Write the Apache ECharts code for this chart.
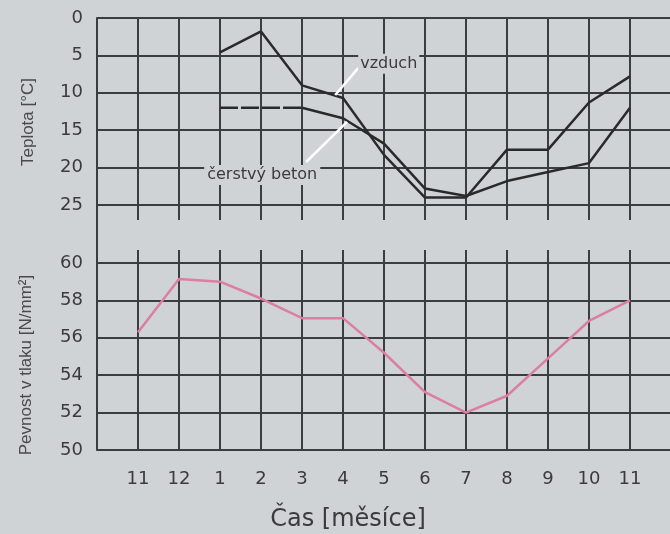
<!DOCTYPE html>
<html>
<head>
<meta charset="utf-8">
<script src="https://cdn.jsdelivr.net/npm/echarts@6/dist/echarts.min.js"></script>
<style>
  html, body { margin: 0; padding: 0; background: #cfd3d6; }
  #chart { width: 670px; height: 534px; }
</style>
</head>
<body>
<div id="chart"></div>
<script>
// Months from November to the following November
const months = ['11', '12', '1', '2', '3', '4', '5', '6', '7', '8', '9', '10', '11'];

// Air temperature [°C] per month (null = not measured)
const airTemp = [null, null, 4.6, 1.8, 9.0, 10.7, 18.3, 24.0, 24.0, 17.6, 17.6, 11.3, 7.8];
// Fresh concrete temperature [°C] per month
const concreteTemp = [null, null, 12.0, 12.0, 12.0, 13.4, 16.8, 22.8, 23.8, 21.8, 20.6, 19.4, 12.0];
// Compressive strength [N/mm²] per month
const strength = [56.3, 59.15, 59.0, 58.1, 57.05, 57.05, 55.2, 53.1, 52.0, 52.9, 54.9, 56.9, 58.0];

const tempTicks = [0, 5, 10, 15, 20, 25];
const strengthTicks = [50, 52, 54, 56, 58, 60];

const BG = '#cfd3d6';
const GRID = '#3a3e42';
const INK = '#3b3b3b';
const FONT = 'DejaVu Sans';

function pairs(arr, from, to) {
  const out = [];
  arr.forEach((v, i) => {
    if (v == null) return;
    if (from != null && i < from) return;
    if (to != null && i > to) return;
    out.push([i, v]);
  });
  return out;
}

const chart = echarts.init(document.getElementById('chart'), null, { renderer: 'canvas' });

const xBase = {
  type: 'value', min: -1, max: 13, interval: 1,
  axisLine: { show: false }, axisTick: { show: false },
  axisLabel: { show: false },
  splitLine: { show: true, lineStyle: { color: GRID, width: 2 } }
};

// The plot runs one month-step past the last month; that final split line
// (x = 13) is pushed just beyond the right edge of the canvas.
const GL = 97, GW = 574;
const gridBox = (top, height) => ({
  left: GL, width: GW, top: top, height: height,
  outerBoundsMode: 'none', containLabel: false
});

const option = {
  backgroundColor: BG,
  animation: false,
  grid: [
    gridBox(18, 187),   // temperature
    gridBox(263, 187),  // strength
    gridBox(205, 15),   // tick stubs below temperature
    gridBox(250, 13),   // tick stubs above strength
    gridBox(18, 432)    // shared left axis line
  ],
  xAxis: [
    Object.assign({}, xBase, { gridIndex: 0 }),
    Object.assign({}, xBase, {
      gridIndex: 1,
      axisLabel: {
        show: true, margin: 20, color: INK, fontFamily: FONT, fontSize: 18,
        formatter: v => (v >= 0 && v < months.length) ? months[v] : ''
      }
    }),
    Object.assign({}, xBase, { gridIndex: 2 }),
    Object.assign({}, xBase, { gridIndex: 3 }),
    Object.assign({}, xBase, { gridIndex: 4, splitLine: { show: false } })
  ],
  yAxis: [
    {
      gridIndex: 0, type: 'value', inverse: true,
      min: tempTicks[0], max: tempTicks[tempTicks.length - 1], interval: 5,
      axisLine: { show: false }, axisTick: { show: false },
      axisLabel: { margin: 14, color: INK, fontFamily: FONT, fontSize: 18 },
      splitLine: { show: true, lineStyle: { color: GRID, width: 2 } }
    },
    {
      gridIndex: 1, type: 'value',
      min: strengthTicks[0], max: strengthTicks[strengthTicks.length - 1], interval: 2,
      axisLine: { show: false }, axisTick: { show: false },
      axisLabel: { margin: 14, color: INK, fontFamily: FONT, fontSize: 18 },
      splitLine: { show: true, lineStyle: { color: GRID, width: 2 } }
    },
    { gridIndex: 2, type: 'value', show: false },
    { gridIndex: 3, type: 'value', show: false },
    {
      gridIndex: 4, type: 'value', min: 0, max: 1,
      axisLine: { show: true, onZero: false, lineStyle: { color: GRID, width: 2 } },
      axisTick: { show: false }, axisLabel: { show: false }, splitLine: { show: false }
    }
  ],
  series: [
    {
      name: 'vzduch', type: 'line', xAxisIndex: 0, yAxisIndex: 0,
      data: pairs(airTemp), symbol: 'none', z: 5,
      lineStyle: { color: '#2a2a2a', width: 2.5 }
    },
    {
      name: 'čerstvý beton', type: 'line', xAxisIndex: 0, yAxisIndex: 0,
      data: pairs(concreteTemp, 0, 4), symbol: 'none', z: 5,
      lineStyle: { color: '#2a2a2a', width: 2.5, type: [18, 3] }
    },
    {
      name: 'čerstvý beton', type: 'line', xAxisIndex: 0, yAxisIndex: 0,
      data: pairs(concreteTemp, 4), symbol: 'none', z: 5,
      lineStyle: { color: '#2a2a2a', width: 2.5 }
    },
    {
      name: 'Pevnost v tlaku', type: 'line', xAxisIndex: 1, yAxisIndex: 1,
      data: pairs(strength), symbol: 'none', z: 5,
      lineStyle: { color: '#dc7ea2', width: 2.5 }
    }
  ]
};

chart.setOption(option);

// Callout labels and leader lines, anchored in the temperature grid's data space
const px = (x, y) => chart.convertToPixel({ gridIndex: 0 }, [x, y]);
const airA = px(4.81, 10.3), airB = px(5.37, 6.7), airT = px(5.37, 6.1);
const conA = px(4.10, 19.25), conB = px(5.10, 13.9), conT = px(3.03, 21.0);

chart.setOption({
  graphic: [
    {
      type: 'line', z: 50,
      shape: { x1: airA[0], y1: airA[1], x2: airB[0], y2: airB[1] },
      style: { stroke: '#ffffff', lineWidth: 2.5 }
    },
    {
      type: 'line', z: 50,
      shape: { x1: conA[0], y1: conA[1], x2: conB[0], y2: conB[1] },
      style: { stroke: '#ffffff', lineWidth: 2.5 }
    },
    {
      type: 'text', z: 60, x: airT[0], y: airT[1],
      style: {
        text: 'vzduch', fill: INK, font: '16px "DejaVu Sans"',
        align: 'left', verticalAlign: 'middle',
        backgroundColor: BG, padding: [2, 2]
      }
    },
    {
      type: 'text', z: 60, x: conT[0], y: conT[1],
      style: {
        text: 'čerstvý beton', fill: INK, font: '16px "DejaVu Sans"',
        align: 'center', verticalAlign: 'middle',
        backgroundColor: BG, padding: [2, 3]
      }
    },
    {
      type: 'text', z: 60, x: 348, y: 520,
      style: {
        text: 'Čas [měsíce]', fill: INK, font: '24px "DejaVu Sans"',
        align: 'center', verticalAlign: 'middle'
      }
    },
    {
      type: 'text', z: 60, x: 28, y: 122, rotation: Math.PI / 2,
      style: {
        text: 'Teplota [°C]', fill: '#4a4a4a', font: '17px "Liberation Sans"',
        align: 'center', verticalAlign: 'middle'
      }
    },
    {
      type: 'text', z: 60, x: 26, y: 365, rotation: Math.PI / 2,
      style: {
        text: 'Pevnost v tlaku [N/mm²]', fill: '#4a4a4a', font: '17px "Liberation Sans"',
        align: 'center', verticalAlign: 'middle'
      }
    }
  ]
});
</script>
</body>
</html>
